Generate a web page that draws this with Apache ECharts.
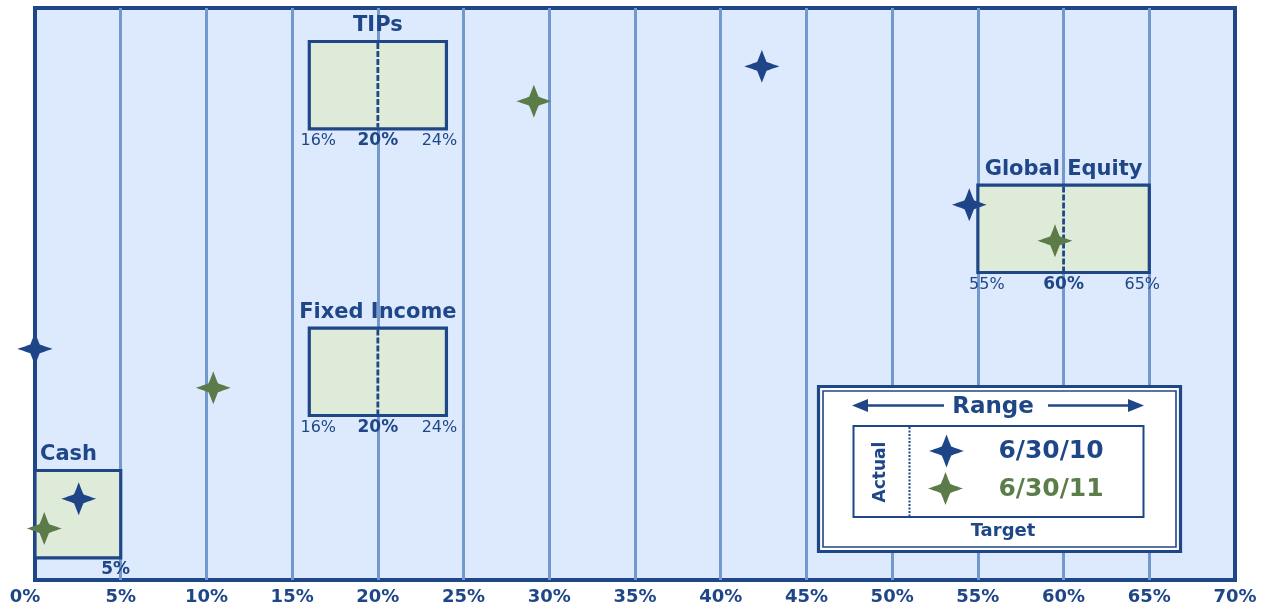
<!DOCTYPE html>
<html>
<head>
<meta charset="utf-8">
<script src="https://cdn.jsdelivr.net/npm/echarts@6/dist/echarts.min.js"></script>
<style>
html,body{margin:0;padding:0;background:#ffffff;}
#chart{width:1271px;height:609px;}
</style>
</head>
<body>
<div id="chart"></div>
<script>
// ---- data ----
const categories = ['Cash', 'Fixed Income', 'Global Equity', 'TIPs'];
const rangeLow = [0, 16, 55, 16];
const rangeHigh = [5, 24, 65, 24];
const targetValue = [null, 20, 60, 20];
const rowLevel = [11.5, 36.4, 61.4, 86.5];
const seriesNames = ['6/30/10', '6/30/11'];
const actual2010X = [2.55, 0, 54.5, 42.4];
const actual2010Y = [14.2, 40.4, 65.6, 89.8];
const actual2011X = [0.54, 10.4, 59.5, 29.1];
const actual2011Y = [9.0, 33.6, 59.3, 83.7];
const xTickValues = [0, 5, 10, 15, 20, 25, 30, 35, 40, 45, 50, 55, 60, 65, 70];

// ---- style ----
const NAVY = '#1f4787';
const BLUE = '#1e4588';
const GREEN = '#5b7b48';
const GREEN_TEXT = '#5b7d4a';
const PLOT_BG = '#dde9fd';
const BOX_FILL = '#deebd8';
const GRID_LINE = '#7398ce';
const FONT = '"DejaVu Sans", Verdana, sans-serif';
const BOX_HALF = 7.64;

// four-pointed star outline: tips joined to inner corners by slightly concave edges
function starPointList(cx, cy, w, h) {
  const a = 0.27, bend = 0.49;
  const pts = [];
  const tips = [[1, 0], [0, 1], [-1, 0], [0, -1]];
  for (let k = 0; k < 4; k++) {
    const t0 = tips[k], t1 = tips[(k + 1) % 4];
    const inner = [(t0[0] + t1[0]) * a, (t0[1] + t1[1]) * a];
    const ctrl0 = [(t0[0] + inner[0]) * bend, (t0[1] + inner[1]) * bend];
    const ctrl1 = [(t1[0] + inner[0]) * bend, (t1[1] + inner[1]) * bend];
    for (let s = 0; s < 8; s++) {
      const u = s / 8;
      pts.push([(1 - u) * (1 - u) * t0[0] + 2 * u * (1 - u) * ctrl0[0] + u * u * inner[0],
                (1 - u) * (1 - u) * t0[1] + 2 * u * (1 - u) * ctrl0[1] + u * u * inner[1]]);
    }
    for (let s = 0; s < 8; s++) {
      const u = s / 8;
      pts.push([(1 - u) * (1 - u) * inner[0] + 2 * u * (1 - u) * ctrl1[0] + u * u * t1[0],
                (1 - u) * (1 - u) * inner[1] + 2 * u * (1 - u) * ctrl1[1] + u * u * t1[1]]);
    }
  }
  return pts.map(p => [cx + p[0] * w / 2, cy + p[1] * h / 2]);
}
const STAR_PATH = 'path://' + starPointList(50, 50, 100, 100)
  .map((p, i) => (i === 0 ? 'M' : 'L') + p[0].toFixed(2) + ',' + p[1].toFixed(2)).join(' ') + ' Z';

function renderBox(params, api) {
  const i = params.dataIndex;
  const lo = api.value(0), hi = api.value(1), yc = api.value(2);
  const tl = api.coord([lo, yc + BOX_HALF]);
  const br = api.coord([hi, yc - BOX_HALF]);
  const children = [];
  children.push({
    type: 'rect',
    shape: { x: tl[0], y: tl[1], width: br[0] - tl[0], height: br[1] - tl[1] },
    style: { fill: BOX_FILL, stroke: NAVY, lineWidth: 3.2 }
  });
  const tv = targetValue[i];
  if (tv !== null) {
    const tx = api.coord([tv, yc])[0];
    children.push({
      type: 'line',
      shape: { x1: tx, y1: tl[1] + 1.5, x2: tx, y2: br[1] - 1.5 },
      style: { stroke: NAVY, lineWidth: 2.8, lineDash: [6, 2] }
    });
    children.push({
      type: 'text',
      style: { text: tv + '%', x: tx, y: br[1] + 12, align: 'center', verticalAlign: 'middle',
        font: 'bold 17px ' + FONT, fill: NAVY }
    });
  }
  const leftAligned = lo === 0;
  children.push({
    type: 'text',
    style: {
      text: categories[i],
      x: leftAligned ? tl[0] + 5 : (tl[0] + br[0]) / 2,
      y: tl[1] - 16,
      align: leftAligned ? 'left' : 'center',
      verticalAlign: 'middle',
      font: 'bold 21px ' + FONT,
      fill: NAVY
    }
  });
  if (lo !== 0) {
    children.push({
      type: 'text',
      style: { text: lo + '%', x: tl[0] + 9, y: br[1] + 12, align: 'center', verticalAlign: 'middle',
        font: '16px ' + FONT, fill: NAVY }
    });
  }
  children.push({
    type: 'text',
    style: { text: hi + '%', x: br[0] - (lo === 0 ? 5 : 7), y: br[1] + 12, align: 'center', verticalAlign: 'middle',
      font: (lo === 0 ? 'bold 17px ' : '16px ') + FONT, fill: NAVY }
  });
  return { type: 'group', children: children };
}

// ---- legend (graphic) ----
function legendGraphics() {
  const els = [];
  els.push({ type: 'rect', shape: { x: 818.5, y: 386.5, width: 362, height: 165 },
    style: { fill: '#ffffff', stroke: NAVY, lineWidth: 3.2 }, z: 100 });
  els.push({ type: 'rect', shape: { x: 823, y: 391, width: 353, height: 156 },
    style: { fill: 'none', stroke: NAVY, lineWidth: 1.6 }, z: 101 });
  els.push({ type: 'rect', shape: { x: 853.5, y: 426, width: 290, height: 91 },
    style: { fill: '#ffffff', stroke: NAVY, lineWidth: 2 }, z: 101 });
  els.push({ type: 'line', shape: { x1: 909.5, y1: 427, x2: 909.5, y2: 516 },
    style: { stroke: NAVY, lineWidth: 2, lineDash: [2, 1.5] }, z: 102 });
  // arrows
  els.push({ type: 'line', shape: { x1: 866, y1: 405.5, x2: 944, y2: 405.5 },
    style: { stroke: NAVY, lineWidth: 2.4 }, z: 102 });
  els.push({ type: 'polygon', shape: { points: [[852, 405.5], [868, 399], [868, 412]] },
    style: { fill: NAVY }, z: 102 });
  els.push({ type: 'line', shape: { x1: 1048, y1: 405.5, x2: 1130, y2: 405.5 },
    style: { stroke: NAVY, lineWidth: 2.4 }, z: 102 });
  els.push({ type: 'polygon', shape: { points: [[1144, 405.5], [1128, 399], [1128, 412]] },
    style: { fill: NAVY }, z: 102 });
  els.push({ type: 'text', x: 993, y: 407, z: 103,
    style: { text: 'Range', align: 'center', verticalAlign: 'middle', font: 'bold 23px ' + FONT, fill: NAVY } });
  els.push({ type: 'text', x: 881, y: 472, rotation: Math.PI / 2, z: 103,
    style: { text: 'Actual', align: 'center', verticalAlign: 'middle', font: 'bold 17px ' + FONT, fill: NAVY } });
  els.push({ type: 'polygon', z: 103, shape: { points: starPointList(946.5, 451, 35, 33) }, style: { fill: BLUE } });
  els.push({ type: 'polygon', z: 103, shape: { points: starPointList(945.5, 488.5, 35, 33) }, style: { fill: GREEN } });
  els.push({ type: 'text', x: 1051, y: 451, z: 103,
    style: { text: seriesNames[0], align: 'center', verticalAlign: 'middle', font: 'bold 25px ' + FONT, fill: NAVY } });
  els.push({ type: 'text', x: 1051, y: 489, z: 103,
    style: { text: seriesNames[1], align: 'center', verticalAlign: 'middle', font: 'bold 25px ' + FONT, fill: GREEN_TEXT } });
  els.push({ type: 'text', x: 1003, y: 531, z: 103,
    style: { text: 'Target', align: 'center', verticalAlign: 'middle', font: 'bold 18px ' + FONT, fill: NAVY } });
  return els;
}

const chart = echarts.init(document.getElementById('chart'), null, { renderer: 'canvas' });
chart.setOption({
  animation: false,
  backgroundColor: '#ffffff',
  grid: { left: 35, right: 36, top: 8, bottom: 29, show: true, backgroundColor: PLOT_BG,
    borderColor: NAVY, borderWidth: 4 },
  xAxis: {
    type: 'value', min: 0, max: 70, interval: 5,
    axisLine: { show: false }, axisTick: { show: false },
    splitLine: { show: true, showMinLine: false, showMaxLine: false,
      lineStyle: { color: GRID_LINE, width: 3 } },
    axisLabel: {
      margin: 8,
      formatter: function (v) { return xTickValues.indexOf(v) === 0 ? '{first|' + v + '%}' : v + '%'; },
      color: NAVY, fontFamily: FONT, fontWeight: 'bold', fontSize: 18,
      rich: { first: { color: NAVY, fontFamily: FONT, fontWeight: 'bold', fontSize: 18, padding: [0, 20, 0, 0] } }
    }
  },
  yAxis: { type: 'value', min: 0, max: 100, show: false, splitLine: { show: false } },
  series: [
    {
      type: 'custom', name: 'ranges', silent: true, z: 2,
      renderItem: renderBox,
      encode: { x: [0, 1], y: 2 },
      data: categories.map((c, i) => [rangeLow[i], rangeHigh[i], rowLevel[i]])
    },
    {
      type: 'scatter', name: seriesNames[0], silent: true, z: 5,
      symbol: STAR_PATH, symbolSize: [35, 33],
      itemStyle: { color: BLUE, opacity: 1 },
      data: actual2010X.map((x, i) => [x, actual2010Y[i]])
    },
    {
      type: 'scatter', name: seriesNames[1], silent: true, z: 5,
      symbol: STAR_PATH, symbolSize: [35, 33],
      itemStyle: { color: GREEN, opacity: 1 },
      data: actual2011X.map((x, i) => [x, actual2011Y[i]])
    }
  ],
  graphic: legendGraphics()
});
</script>
</body>
</html>
